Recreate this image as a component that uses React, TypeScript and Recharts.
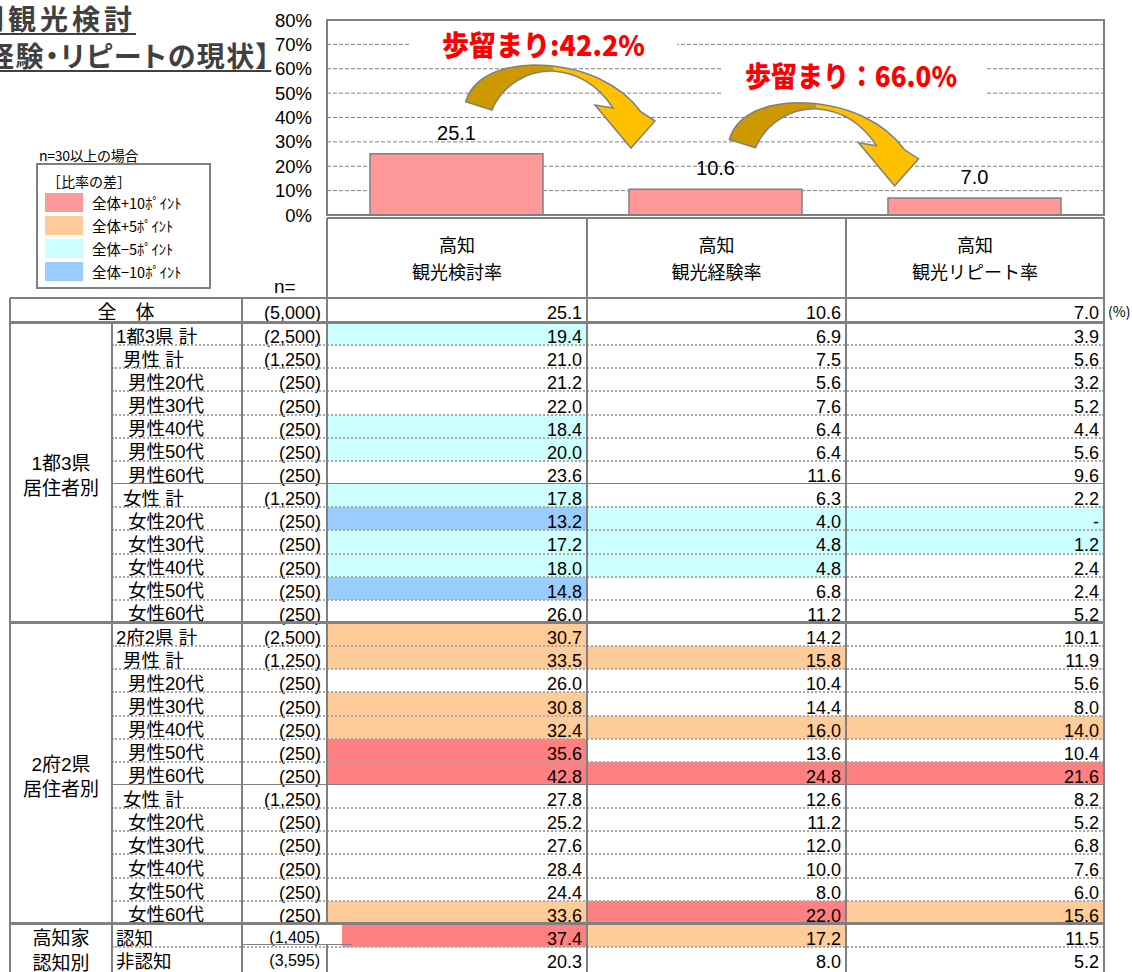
import React from 'react';
import { BarChart, Bar, XAxis, YAxis, CartesianGrid, LabelList } from 'recharts';

const rateNames = ['観光検討率', '観光経験率', '観光リピート率'];
const totalRates = [25.1, 10.6, 7.0];
const yTicks = [0, 10, 20, 30, 40, 50, 60, 70, 80];
const yieldTexts = ['歩留まり:42.2%', '歩留まり：66.0%'];

const legendLabels = ['全体+10ﾎﾟｲﾝﾄ', '全体+5ﾎﾟｲﾝﾄ', '全体−5ﾎﾟｲﾝﾄ', '全体−10ﾎﾟｲﾝﾄ'];
const legendColors = ['#FF9999', '#FFCC99', '#CCFFFF', '#99CCFF'];

const groupNames = [['1都3県', '居住者別'], ['2府2県', '居住者別'], ['高知家', '認知別']];
const groupSizes = [13, 13, 2];

const rowLabels = [
  '1都3県 計', '男性 計', '男性20代', '男性30代', '男性40代', '男性50代', '男性60代',
  '女性 計', '女性20代', '女性30代', '女性40代', '女性50代', '女性60代',
  '2府2県 計', '男性 計', '男性20代', '男性30代', '男性40代', '男性50代', '男性60代',
  '女性 計', '女性20代', '女性30代', '女性40代', '女性50代', '女性60代',
  '認知', '非認知',
];
const rowN = [
  '(2,500)', '(1,250)', '(250)', '(250)', '(250)', '(250)', '(250)',
  '(1,250)', '(250)', '(250)', '(250)', '(250)', '(250)',
  '(2,500)', '(1,250)', '(250)', '(250)', '(250)', '(250)', '(250)',
  '(1,250)', '(250)', '(250)', '(250)', '(250)', '(250)',
  '(1,405)', '(3,595)',
];
const kentou = [
  19.4, 21.0, 21.2, 22.0, 18.4, 20.0, 23.6, 17.8, 13.2, 17.2, 18.0, 14.8, 26.0,
  30.7, 33.5, 26.0, 30.8, 32.4, 35.6, 42.8, 27.8, 25.2, 27.6, 28.4, 24.4, 33.6,
  37.4, 20.3,
];
const keiken = [
  6.9, 7.5, 5.6, 7.6, 6.4, 6.4, 11.6, 6.3, 4.0, 4.8, 4.8, 6.8, 11.2,
  14.2, 15.8, 10.4, 14.4, 16.0, 13.6, 24.8, 12.6, 11.2, 12.0, 10.0, 8.0, 22.0,
  17.2, 8.0,
];
const repeat: (number | null)[] = [
  3.9, 5.6, 3.2, 5.2, 4.4, 5.6, 9.6, 2.2, null, 1.2, 2.4, 2.4, 5.2,
  10.1, 11.9, 5.6, 8.0, 14.0, 10.4, 21.6, 8.2, 5.2, 6.8, 7.6, 6.0, 15.6,
  11.5, 5.2,
];

const FONT = "'Liberation Sans', Arial, 'Noto Sans CJK JP', sans-serif";
const JP = "'Noto Sans CJK JP', sans-serif";
const LINE = '#808080';
const COLX = [10, 112, 242, 327, 587, 846, 1104];
const ROW0 = 322;
const RH = 23.15;
const rowTop = (i: number) => ROW0 + i * RH;

const ARROW =
  'M465.7,101.7 C472,80 495,66 533,65 C585,65 622,86 641,112 L655,121 L631,148 L595,105 L613,108 ' +
  'C600,88 580,73 553,71 C527,70 502,86 492,110 Z';

// cell shading: difference from the overall (全体) rate, in points
function diffColor(v: number | null, total: number) {
  const d = Math.round(((v ?? 0) - total) * 10) / 10;
  if (d > 10) return '#FF8080';
  if (d > 5) return '#FFCC99';
  if (d < -10) return '#99CCFF';
  if (d < -5) return '#CCFFFF';
  return null;
}

function HLine({ x1, x2, y, w = 2, dotted = false }: any) {
  return (
    <div
      style={{
        position: 'absolute', left: x1, top: y - w / 2, width: x2 - x1, height: 0,
        borderTop: `${w}px ${dotted ? 'dotted' : 'solid'} ${dotted ? '#a8a8a8' : LINE}`,
      }}
    />
  );
}

function VLine({ x, y1, y2, w = 2 }: any) {
  return (
    <div style={{ position: 'absolute', left: x - w / 2, top: y1, width: 0, height: y2 - y1, borderLeft: `${w}px solid ${LINE}` }} />
  );
}

function Cell({ x1, x2, y, h, align = 'right', pad = 5, size = 18, children }: any) {
  return (
    <div
      style={{
        position: 'absolute', left: x1, top: y, width: x2 - x1, height: h, display: 'flex',
        alignItems: 'flex-end',
        justifyContent: align === 'right' ? 'flex-end' : align === 'center' ? 'center' : 'flex-start',
        paddingRight: align === 'right' ? pad : 0, paddingLeft: align === 'left' ? pad : 0,
        boxSizing: 'border-box', fontSize: size, lineHeight: 1, whiteSpace: 'nowrap',
      }}
    >
      <span style={{ marginBottom: -1 }}>{children}</span>
    </div>
  );
}

function indentOf(label: string) {
  if (label.includes('代')) return 16;
  if (label === '男性 計' || label === '女性 計') return 11;
  return 4;
}

const titleStyle: React.CSSProperties = {
  position: 'absolute', fontFamily: JP, fontWeight: 700, fontSize: 28, color: '#404040',
  lineHeight: '36px', whiteSpace: 'nowrap', textDecoration: 'underline', textDecorationThickness: 2,
  textUnderlineOffset: 3, fontFeatureSettings: '"palt"',
};

export default function App() {
  const chartData = rateNames.map((name, i) => ({ name, value: totalRates[i] }));
  const series = [kentou, keiken, repeat];

  const bgs: React.ReactNode[] = [];
  const texts: React.ReactNode[] = [];
  const lines: React.ReactNode[] = [];

  rowLabels.forEach((label, i) => {
    const y = rowTop(i);
    series.forEach((vals, j) => {
      const c = diffColor(vals[i], totalRates[j]);
      if (c) {
        const left = i === 26 && j === 0 ? 342 : COLX[3 + j];
        bgs.push(<div key={`bg${i}-${j}`} style={{ position: 'absolute', left, top: y, width: COLX[4 + j] - left, height: RH, background: c }} />);
      }
      const v = vals[i];
      texts.push(
        <Cell key={`v${i}-${j}`} x1={COLX[3 + j]} x2={COLX[4 + j]} y={y} h={RH}>
          {v == null ? '-' : v.toFixed(1)}
        </Cell>
      );
    });
    texts.push(
      <Cell key={`l${i}`} x1={COLX[1]} x2={COLX[2]} y={y} h={RH} align="left" pad={indentOf(label)} size={18.5}>
        {label}
      </Cell>
    );
    if (i < 26) {
      texts.push(
        <Cell key={`n${i}`} x1={COLX[2]} x2={COLX[3]} y={y} h={RH} pad={6} size={18}>
          {rowN[i]}
        </Cell>
      );
    }
    if (i !== 0 && i !== 13 && i !== 26) {
      const solid = i === 7 || i === 20;
      lines.push(<HLine key={`h${i}`} x1={COLX[1]} x2={COLX[6]} y={y} w={solid ? 1.5 : 2} dotted={!solid} />);
    }
  });

  let start = 0;
  const groups = groupNames.map((g, k) => {
    const top = rowTop(start);
    const h = groupSizes[k] * RH;
    start += groupSizes[k];
    return (
      <div
        key={`g${k}`}
        style={{
          position: 'absolute', left: COLX[0], top, width: COLX[1] - COLX[0], height: h, display: 'flex',
          flexDirection: 'column', alignItems: 'center', justifyContent: 'center', paddingTop: 8,
          boxSizing: 'border-box', fontSize: 19, lineHeight: '25px',
        }}
      >
        <div>{g[0]}</div>
        <div>{g[1]}</div>
      </div>
    );
  });

  return (
    <div style={{ position: 'absolute', left: 0, top: 0, width: 1132, height: 972, overflow: 'hidden', background: '#fff', fontFamily: FONT, color: '#000' }}>
      {/* title, cut off on the left like the source slide */}
      <div style={{ ...titleStyle, left: -24, top: 0, letterSpacing: 4 }}>別観光検討</div>
      <div style={{ ...titleStyle, left: -14, top: 37, letterSpacing: 1.5 }}>経験・リピートの現状】</div>

      {/* legend */}
      <div style={{ position: 'absolute', left: 39, top: 146, fontSize: 14, fontFamily: JP, lineHeight: '18px', whiteSpace: 'nowrap', letterSpacing: -0.3 }}>n=30以上の場合</div>
      <div style={{ position: 'absolute', left: 36, top: 163, width: 175, height: 126, border: `2px solid ${LINE}`, boxSizing: 'border-box' }} />
      <div style={{ position: 'absolute', left: 47, top: 172, fontSize: 14, fontFamily: JP, lineHeight: '18px', whiteSpace: 'nowrap' }}>［比率の差］</div>
      {legendLabels.map((l, k) => (
        <React.Fragment key={`lg${k}`}>
          <div style={{ position: 'absolute', left: 45, top: 193 + k * 23, width: 38, height: 19, background: legendColors[k] }} />
          <div style={{ position: 'absolute', left: 92, top: 193 + k * 23, height: 19, lineHeight: '19px', fontSize: 14.5, fontFamily: JP, whiteSpace: 'nowrap' }}>{l}</div>
        </React.Fragment>
      ))}
      <div style={{ position: 'absolute', left: 274, top: 276, fontSize: 19, lineHeight: '22px' }}>n=</div>

      {/* bar chart */}
      <div style={{ position: 'absolute', left: 0, top: 0 }}>
        <BarChart width={1132} height={230} data={chartData} margin={{ top: 20, right: 28, bottom: 15, left: 0 }} barCategoryGap="16.6%">
          <CartesianGrid horizontal vertical={false} stroke={LINE} strokeDasharray="4 2" />
          <XAxis dataKey="name" hide />
          <YAxis
            width={327}
            domain={[0, 80]}
            ticks={yTicks}
            interval={0}
            tickFormatter={(v) => `${v}%`}
            axisLine={false}
            tickLine={false}
            tickSize={0}
            tickMargin={15}
            tick={{ fontSize: 18.5, fill: '#000' }}
          />
          <Bar dataKey="value" fill="#FF9999" stroke={LINE} strokeWidth={1.5} isAnimationActive={false}>
            <LabelList dataKey="value" position="top" offset={14} fill="#000" fontSize={20} formatter={(v: any) => Number(v).toFixed(1)} />
          </Bar>
        </BarChart>
      </div>
      <div style={{ position: 'absolute', left: 326, top: 19, width: 779, height: 197, border: `2px solid ${LINE}`, boxSizing: 'border-box' }} />

      {/* yield annotations and curved arrows */}
      <svg width={1132} height={230} style={{ position: 'absolute', left: 0, top: 0 }}>
        <defs>
          <linearGradient id="arrowFill" x1="0" y1="0" x2="1" y2="0">
            <stop offset="0" stopColor="#CC9900" />
            <stop offset="0.46" stopColor="#CC9900" />
            <stop offset="0.46" stopColor="#FFC000" />
            <stop offset="1" stopColor="#FFC000" />
          </linearGradient>
        </defs>
        <rect x={410} y={30} width={267} height={30} fill="#fff" />
        <rect x={723} y={57} width={262} height={43} fill="#fff" />
        <text x={442} y={56} fontFamily={JP} fontWeight="900" fontSize={28} fill="#FF0000" textLength={203} lengthAdjust="spacingAndGlyphs">
          {yieldTexts[0]}
        </text>
        <text x={745} y={87} fontFamily={JP} fontWeight="900" fontSize={28} fill="#FF0000" textLength={212} lengthAdjust="spacingAndGlyphs">
          {yieldTexts[1]}
        </text>
        {[0, 1].map((k) => (
          <path key={`ar${k}`} d={ARROW} transform={`translate(${k * 263.6},${k * 37.8})`} fill="url(#arrowFill)" stroke={LINE} strokeWidth={1.5} />
        ))}
      </svg>

      {/* table */}
      {bgs}
      {rateNames.map((r, j) => (
        <div
          key={`hd${j}`}
          style={{
            position: 'absolute', left: COLX[3 + j], top: 218, width: COLX[4 + j] - COLX[3 + j], height: 80,
            display: 'flex', flexDirection: 'column', alignItems: 'center', justifyContent: 'center',
            fontSize: 18, lineHeight: '27px', fontFamily: JP,
          }}
        >
          <div>高知</div>
          <div>{r}</div>
        </div>
      ))}
      <Cell x1={COLX[0]} x2={COLX[2]} y={299} h={22} align="center" size={19}>全　体</Cell>
      <Cell x1={COLX[2]} x2={COLX[3]} y={299} h={22} pad={6}>(5,000)</Cell>
      {totalRates.map((v, j) => (
        <Cell key={`t${j}`} x1={COLX[3 + j]} x2={COLX[4 + j]} y={299} h={22}>{v.toFixed(1)}</Cell>
      ))}
      <div style={{ position: 'absolute', left: 1108, top: 302, fontSize: 14, lineHeight: '18px', fontFamily: JP }}>(%)</div>
      {groups}
      {texts}

      {lines}
      <HLine x1={COLX[3]} x2={COLX[6]} y={218} />
      <HLine x1={COLX[0]} x2={COLX[6]} y={298} />
      <HLine x1={COLX[0]} x2={COLX[6]} y={ROW0} w={3} />
      <HLine x1={COLX[0]} x2={COLX[6]} y={rowTop(13)} w={3} />
      <HLine x1={COLX[0]} x2={COLX[6]} y={rowTop(26)} w={3} />
      <VLine x={COLX[0]} y1={298} y2={972} />
      <VLine x={COLX[1]} y1={ROW0} y2={972} />
      <VLine x={COLX[2]} y1={298} y2={972} />
      {[3, 4, 5, 6].map((c) => (
        <VLine key={`vc${c}`} x={COLX[c]} y1={218} y2={972} />
      ))}

      {/* pasted-over n cells in the 高知家認知別 rows */}
      <div style={{ position: 'absolute', left: 244, top: 925, width: 98, height: 20, background: '#fff' }} />
      <Cell x1={COLX[2]} x2={COLX[3]} y={rowTop(26) - 2} h={RH} pad={7} size={16}>{rowN[26]}</Cell>
      <Cell x1={COLX[2]} x2={COLX[3]} y={rowTop(27) - 2} h={RH} pad={7} size={16}>{rowN[27]}</Cell>
      <HLine x1={243} x2={352} y={945} w={1.5} />
    </div>
  );
}
